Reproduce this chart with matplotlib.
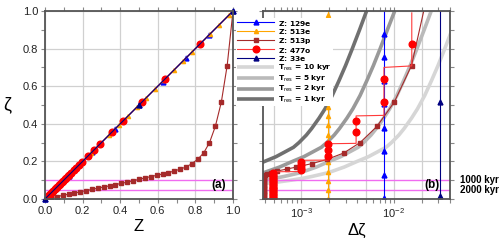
import numpy as np
import matplotlib.pyplot as plt
from matplotlib.ticker import MultipleLocator, LogLocator, NullFormatter
from matplotlib.lines import Line2D

plt.rcParams['font.family'] = ['Liberation Sans', 'DejaVu Sans']

# ---- marker levels of the vertical grids (every 16th / 25th level) ----
zeta_129e = [0.0, 0.125, 0.25, 0.375, 0.5, 0.625, 0.75, 0.875, 1.0]
zeta_513e = [0.0, 0.049, 0.098, 0.146, 0.195, 0.244, 0.293, 0.342, 0.391, 0.439,
             0.488, 0.537, 0.586, 0.635, 0.684, 0.732, 0.781, 0.830, 0.879, 0.928,
             0.977, 1.0]
zeta_33e = [0.0, 0.5, 1.0]
zeta_33e_mid = [0.016, 0.516]
dz_129e = 0.0078
dz_513e = 0.00195
dz_33e = 0.0312

# 513p: Z, zeta and spacing at every 16th level
Z_513p = [0.0, 0.031, 0.062, 0.094, 0.125, 0.156, 0.188, 0.219, 0.25, 0.281,
          0.312, 0.344, 0.375, 0.406, 0.438, 0.469, 0.5, 0.531, 0.562, 0.594,
          0.625, 0.656, 0.688, 0.719, 0.75, 0.781, 0.812, 0.844, 0.875, 0.906,
          0.938, 0.969, 1.0]
zeta_513p = [0.0, 0.006, 0.013, 0.019, 0.026, 0.032, 0.038, 0.045, 0.051, 0.058,
             0.064, 0.070, 0.077, 0.083, 0.090, 0.097, 0.105, 0.112, 0.119, 0.126,
             0.133, 0.140, 0.149, 0.159, 0.170, 0.188, 0.211, 0.245, 0.300, 0.386,
             0.516, 0.710, 1.0]
dzeta_513p = [0.00039, 0.00039, 0.00039, 0.00039, 0.00039, 0.00039, 0.00039, 0.00039,
              0.00039, 0.00039, 0.00039, 0.00039, 0.00039, 0.00039, 0.00039, 0.00039,
              0.00039, 0.00039, 0.00039, 0.00040, 0.00042, 0.00047, 0.00055, 0.00069,
              0.00088, 0.00129, 0.0019, 0.00287, 0.0043, 0.00655, 0.0101, 0.0155, 0.021]

# 477o: markers and the step outline of its spacing
zeta_477o = [0.004, 0.012, 0.020, 0.027, 0.035, 0.043, 0.051, 0.059, 0.066, 0.074,
             0.082, 0.090, 0.098, 0.105, 0.113, 0.121, 0.129, 0.137, 0.152, 0.167,
             0.183, 0.198, 0.229, 0.260, 0.291, 0.355, 0.416, 0.516, 0.639, 0.823]
dzeta_477o = [0.000488, 0.000488, 0.000488, 0.000488, 0.000488, 0.000488, 0.000488,
              0.000488, 0.000488, 0.000488, 0.000488, 0.000488, 0.000488, 0.000488,
              0.000488, 0.000488, 0.000488, 0.000488, 0.000977, 0.000977, 0.000977,
              0.000977, 0.00195, 0.00195, 0.00195, 0.0039, 0.0039, 0.0078, 0.0078, 0.0156]
stair_zeta = [0.0, 0.145, 0.146, 0.206, 0.207, 0.294, 0.296, 0.442, 0.445, 0.700, 0.708, 0.99]
stair_dz = [0.000488, 0.000488, 0.000977, 0.000977, 0.00195, 0.00195, 0.0039, 0.0039,
            0.0078, 0.0078, 0.0156, 0.0156]

# residence-time curves
zeta_tres = [0.08, 0.09, 0.10, 0.11, 0.12, 0.14, 0.17, 0.20, 0.225, 0.25, 0.275, 0.30,
             0.34, 0.375, 0.43, 0.48, 0.55, 0.63, 0.71, 0.80, 0.90, 1.0]
dz_1kyr = [3.5e-5, 5.5e-5, 7.7e-5, 1.03e-4, 1.3e-4, 1.95e-4, 2.9e-4, 4.0e-4, 5.3e-4,
           6.6e-4, 8.2e-4, 9.4e-4, 1.13e-3, 1.29e-3, 1.55e-3, 1.8e-3, 2.15e-3, 2.55e-3,
           3.0e-3, 3.55e-3, 4.25e-3, 5.06e-3]
dz_2kyr = [7.0e-5, 1.1e-4, 1.54e-4, 2.06e-4, 2.6e-4, 3.9e-4, 5.8e-4, 8.0e-4, 1.06e-3,
           1.32e-3, 1.64e-3, 1.88e-3, 2.26e-3, 2.58e-3, 3.1e-3, 3.6e-3, 4.3e-3, 5.1e-3,
           6.0e-3, 7.1e-3, 8.5e-3, 1.02e-2]
dz_5kyr = [1.75e-4, 2.75e-4, 3.85e-4, 5.15e-4, 6.5e-4, 9.75e-4, 1.45e-3, 2.0e-3, 2.65e-3,
           3.3e-3, 4.1e-3, 4.7e-3, 5.65e-3, 6.45e-3, 7.75e-3, 9.0e-3, 1.075e-2, 1.275e-2,
           1.5e-2, 1.775e-2, 2.125e-2, 2.53e-2]
dz_10kyr = [3.5e-4, 5.5e-4, 7.7e-4, 1.03e-3, 1.3e-3, 1.95e-3, 2.9e-3, 4.0e-3, 5.3e-3,
            6.6e-3, 8.2e-3, 9.4e-3, 1.13e-2, 1.29e-2, 1.55e-2, 1.8e-2, 2.15e-2, 2.55e-2,
            3.0e-2, 3.55e-2, 4.25e-2, 5.06e-2]
tres_curves = [dz_10kyr, dz_5kyr, dz_2kyr, dz_1kyr]
tres_labels = ['10', '5', '2', '1']
tres_colors = ['#d6d6d6', '#bababa', '#999999', '#707070']
grid_names = ['129e', '513e', '513p', '477o', '33e']

age_zeta = [0.0995, 0.048]
age_labels = ['1000 kyr', '2000 kyr']
grid_extra = [5e-4, 2e-3, 5e-3, 2e-2]

pink = '#f06cf0'
frame = '#555555'
tickc = '#888888'
red_line = '#ff3a3a'

fig = plt.figure(figsize=(5, 2.44), dpi=100)
ax1 = fig.add_axes([0.09, 0.1844, 0.376, 0.7705])
ax2 = fig.add_axes([0.526, 0.1844, 0.374, 0.7705])

# ---------------- (a) Z vs zeta ----------------
ax1.plot(zeta_129e, zeta_129e, color='blue', lw=0.8, marker='^', ms=3.5, clip_on=False)
ax1.plot(zeta_513e, zeta_513e, color='orange', lw=0.8, marker='^', ms=3,
         markevery=list(range(21)))
ax1.plot(Z_513p, zeta_513p, color='brown', lw=0.8, marker='s', ms=2.8)
ax1.plot(zeta_477o + [1.0], zeta_477o + [1.0], color=red_line, lw=0.8, marker='o', ms=4.8,
         mfc='red', mec='red', markevery=list(range(30)))
ax1.plot(zeta_33e, zeta_33e, color='navy', lw=0.8, marker='^', ms=3.5, clip_on=False)
for z in age_zeta:
    ax1.axhline(z, color=pink, lw=1, zorder=1.5)
ax1.text(0.925, 0.075, '(a)', transform=ax1.transAxes, ha='center', va='center',
         fontsize=8.5, fontweight='bold')

ax1.set_xlim(0, 1)
ax1.set_ylim(0, 1)
ax1.xaxis.set_major_locator(MultipleLocator(0.2))
ax1.xaxis.set_minor_locator(MultipleLocator(0.1))
ax1.yaxis.set_major_locator(MultipleLocator(0.2))
ax1.yaxis.set_minor_locator(MultipleLocator(0.1))
ax1.xaxis.set_major_formatter('{x:.1f}')
ax1.yaxis.set_major_formatter('{x:.1f}')
ax1.set_xlabel('Z', fontsize=12, labelpad=2)
ax1.set_ylabel('ζ', fontsize=13, rotation=0, labelpad=11, va='center')

# ---------------- (b) dzeta vs zeta ----------------
ax2.plot(np.full(len(zeta_129e), dz_129e), np.array(zeta_129e) + 0.004, color='blue',
         lw=0.8, marker='^', ms=3.5, markevery=list(range(8)))
ax2.plot(np.full(len(zeta_513e), dz_513e), zeta_513e, color='orange', lw=0.8,
         marker='^', ms=3, markevery=list(range(21)))
ax2.plot(dzeta_513p, zeta_513p, color='brown', lw=0.8, marker='s', ms=2.8,
         markevery=list(range(32)))
ax2.plot(stair_dz, stair_zeta, color=red_line, lw=0.8)
ax2.plot(dzeta_477o, zeta_477o, ls='none', marker='o', ms=4.8, color='red')
ax2.plot(np.full(len(zeta_33e), dz_33e), zeta_33e, color='navy', lw=0.8)
ax2.plot(np.full(len(zeta_33e_mid), dz_33e), zeta_33e_mid, ls='none', color='navy',
         marker='^', ms=3.5)
tres_lines = []
for dz, c in zip(tres_curves, tres_colors):
    l, = ax2.plot(dz, zeta_tres, color=c, lw=2.6, zorder=1.2, solid_capstyle='butt')
    tres_lines.append(l)
for z, lab in zip(age_zeta, age_labels):
    ax2.axhline(z, color=pink, lw=1, zorder=1.5)
    ax2.text(1.055, z, lab, transform=ax2.get_yaxis_transform(), ha='left', va='center',
             fontsize=7, fontweight='bold', clip_on=False)
for g in grid_extra:
    ax2.axvline(g, color='#d0d0d0', lw=0.9, zorder=0.6)
ax2.text(0.906, 0.075, '(b)', transform=ax2.transAxes, ha='center', va='center',
         fontsize=8.5, fontweight='bold')

ax2.set_xscale('log')
ax2.set_xlim(3.84e-4, 0.0404)
ax2.set_ylim(0, 1)
ax2.xaxis.set_major_locator(LogLocator(base=10))
ax2.xaxis.set_minor_locator(LogLocator(base=10, subs=np.arange(2, 10)))
ax2.xaxis.set_minor_formatter(NullFormatter())
ax2.yaxis.set_major_locator(MultipleLocator(0.2))
ax2.yaxis.set_minor_locator(MultipleLocator(0.1))
ax2.tick_params(axis='y', labelleft=False)
ax2.set_xlabel('Δζ', fontsize=12, labelpad=2)

for ax in (ax1, ax2):
    ax.set_axisbelow(True)
    ax.grid(True, which='major', color='#d0d0d0', lw=0.9)
    ax.tick_params(which='both', direction='out', top=True, right=True, length=3,
                   width=0.8, color=tickc, labelsize=8, pad=2, labelcolor='#222222')
    for s in ax.spines.values():
        s.set_color(frame)
        s.set_linewidth(1.3)

# legend
handles = [Line2D([], [], color='blue', lw=0.8, marker='^', ms=3.5),
           Line2D([], [], color='orange', lw=0.8, marker='^', ms=3),
           Line2D([], [], color='brown', lw=0.8, marker='s', ms=2.8),
           Line2D([], [], color=red_line, lw=0.8, marker='o', ms=4.8, mfc='red', mec='red'),
           Line2D([], [], color='navy', lw=0.8, marker='^', ms=3.5)] + tres_lines
# the empty subscript keeps every row the same height as the T_res rows
labels = [r'Z: %s$_{\ }$' % g for g in grid_names] + \
         [r'T$_{\rm res}$ = %s kyr' % t for t in tres_labels]
fig.legend(handles, labels, loc='upper left', bbox_to_anchor=(236 / 500, 1 - 18 / 244),
           prop=dict(family='DejaVu Sans', weight='bold', size=5.4),
           handlelength=4.9, handletextpad=0.6, labelspacing=0.07, borderpad=0.15,
           borderaxespad=0, frameon=True, framealpha=1, fancybox=False,
           edgecolor='none', numpoints=1)

fig.savefig('out.png', dpi=100)
